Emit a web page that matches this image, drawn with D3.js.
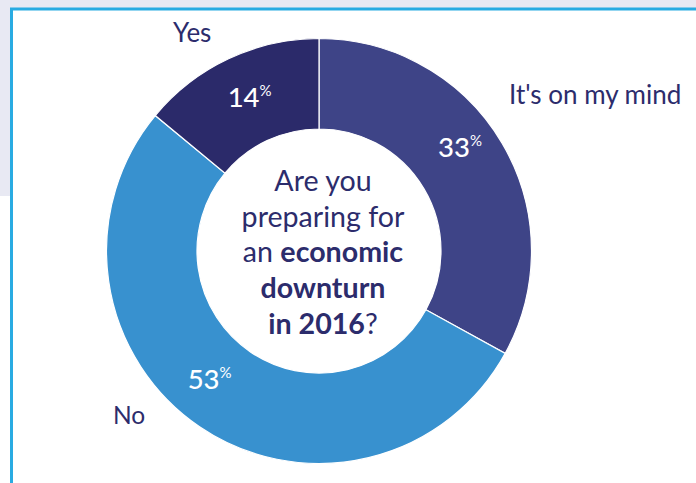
<!DOCTYPE html>
<html>
<head>
<meta charset="utf-8">
<script src="https://cdn.jsdelivr.net/npm/d3@7"></script>
<style>
  html, body { margin: 0; padding: 0; background: #ffffff; }
  svg { display: block; font-family: Lato, "Open Sans", sans-serif; }
</style>
</head>
<body>
<svg id="chart" width="696" height="483"></svg>
<script>
// ---- data ----
const categories = ["It's on my mind", "No", "Yes"];
const values = [33, 53, 14];
const colors = ["#3e4487", "#3891cf", "#2b2a6a"];
const questionLines = [
  [{t: "Are you", b: false}],
  [{t: "preparing for", b: false}],
  [{t: "an ", b: false}, {t: "economic", b: true}],
  [{t: "downturn", b: true}],
  [{t: "in 2016", b: true}, {t: "?", b: false}]
];

// ---- layout ----
const W = 696, H = 483;
const cx = 319, cy = 251;
const outerR = 212.5, innerR = 122;
const navy = "#2c2c6c";

const svg = d3.select("#chart");

// background frame
svg.append("rect").attr("x", 0).attr("y", 0).attr("width", W).attr("height", 196).attr("fill", "#e8e9f3");
svg.append("rect").attr("x", 11.5).attr("y", 9).attr("width", W + 20).attr("height", H + 20)
  .attr("fill", "#ffffff").attr("stroke", "#29abe2").attr("stroke-width", 3);

const pie = d3.pie().sort(null).value(d => d)(values);
const arc = d3.arc().innerRadius(innerR).outerRadius(outerR);
const midArc = d3.arc().innerRadius(innerR).outerRadius(outerR);

const g = svg.append("g").attr("transform", `translate(${cx},${cy})`);

g.selectAll("path.slice").data(pie).join("path")
  .attr("class", "slice")
  .attr("d", arc)
  .attr("fill", (d, i) => colors[i])
  .attr("stroke", "#ffffff")
  .attr("stroke-width", 1.2);

// percentage labels (centroid + small nudges)
const pctNudge = [[-3, -9], [-15.4, -0.8], [1.8, 7.4]];
const pct = g.selectAll("text.pct").data(pie).join("text")
  .attr("class", "pct")
  .attr("x", (d, i) => midArc.centroid(d)[0] + pctNudge[i][0])
  .attr("y", (d, i) => midArc.centroid(d)[1] + pctNudge[i][1])
  .attr("text-anchor", "middle")
  .attr("fill", "#ffffff")
  .style("font-size", "27.5px")
  .style("font-weight", 500);
pct.append("tspan").text((d, i) => values[i]);
pct.append("tspan").attr("dy", -11).style("font-size", "15px").style("font-weight", 400).text("%");

// category labels
const catAnchor = ["start", "middle", "middle"];
const catSize = ["26px", "24.5px", "26px"];
const catTargets = [[509 - cx, 104.3 - cy], [129 - cx, 424.3 - cy], [192.2 - cx, 41.7 - cy]];
g.selectAll("text.cat").data(pie).join("text")
  .attr("class", "cat")
  .attr("x", (d, i) => catTargets[i][0])
  .attr("y", (d, i) => catTargets[i][1])
  .attr("text-anchor", (d, i) => catAnchor[i])
  .attr("fill", navy)
  .style("font-size", (d, i) => catSize[i])
  .text((d, i) => categories[i]);

// center question
const qx = 323 - cx;
const firstBaseline = 190.7 - cy;
const lineH = 35.8;
const q = g.append("text").attr("text-anchor", "middle").attr("fill", navy).style("font-size", "28.6px");
questionLines.forEach((line, li) => {
  line.forEach((seg, si) => {
    const ts = q.append("tspan").text(seg.t).style("font-weight", seg.b ? 700 : 400);
    if (si === 0) ts.attr("x", qx).attr("y", firstBaseline + li * lineH);
  });
});
</script>
</body>
</html>
